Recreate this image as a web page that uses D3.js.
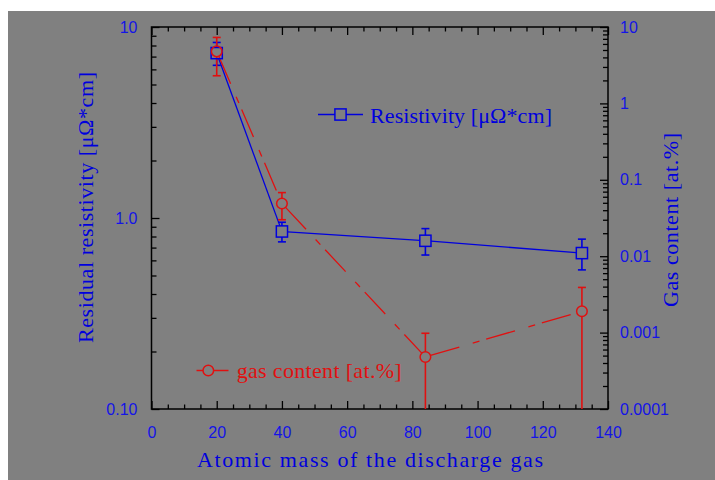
<!DOCTYPE html>
<html>
<head>
<meta charset="utf-8">
<script src="https://cdn.jsdelivr.net/npm/d3@7"></script>
<style>
  html, body { margin: 0; padding: 0; background: #ffffff; }
  svg { display: block; }
</style>
</head>
<body>
<svg id="chart" width="715" height="480"></svg>
<script>
// Ne, Ar, Kr, Xe
const atomicMass = [20, 40, 84, 132];
const resistivity = [7.3, 0.85, 0.76, 0.655];      // µΩ·cm
const resistivityErr = [1.0, 0.10, 0.12, 0.12];
const gasContent = [4.8, 0.049, 0.00048, 0.0019];   // at.%
const gasContentErr = [2.5, 0.019, 0.0005, 0.0020];

const xMajorTicks = [0, 20, 40, 60, 80, 100, 120, 140];
const leftTickValues = [0.1, 1, 10];
const leftTickLabels = ["0.10", "1.0", "10"];
const rightTickValues = [0.0001, 0.001, 0.01, 0.1, 1, 10];
const rightTickLabels = ["0.0001", "0.001", "0.01", "0.1", "1", "10"];

const BLUE = "#0000dd";
const BLUE_TEXT = "#1414e6";
const RED = "#e01010";
const BG = "#808080";

const svg = d3.select("#chart");
svg.append("rect").attr("x", 8).attr("y", 11).attr("width", 707).attr("height", 469).attr("fill", BG);

const plot = { left: 151.5, right: 608, top: 27, bottom: 409 };

const x = d3.scaleLinear().domain([0, 140]).range([plot.left, plot.right]);
const yL = d3.scaleLog().domain([0.1, 10]).range([plot.bottom, plot.top]);
const yR = d3.scaleLog().domain([0.0001, 10]).range([plot.bottom, plot.top]);

// minor ticks for log axes: 2..9 within every decade
function logMinor(scale) {
  const [lo, hi] = scale.domain();
  const out = [];
  for (let e = Math.round(Math.log10(lo)); e < Math.round(Math.log10(hi)); e++) {
    for (let k = 2; k <= 9; k++) out.push(k * Math.pow(10, e));
  }
  return out;
}
const xMinor = d3.range(0, 141, 5).filter(v => v % 20 !== 0);

function styleAxis(g) {
  g.select(".domain").remove();
  g.selectAll("line").attr("stroke", "#000").attr("stroke-width", 1.3);
  g.selectAll("text")
    .attr("fill", BLUE_TEXT)
    .style("font-family", "'Liberation Sans', Arial, sans-serif")
    .style("font-size", "16px");
}

// bottom axis
const gB = svg.append("g").attr("transform", `translate(0,${plot.bottom})`);
gB.call(d3.axisBottom(x).tickValues(xMajorTicks).tickSize(-8).tickPadding(18).tickFormat(d3.format("d")));
styleAxis(gB);
const gBm = svg.append("g").attr("transform", `translate(0,${plot.bottom})`);
gBm.call(d3.axisBottom(x).tickValues(xMinor).tickSize(-4.5).tickFormat(""));
styleAxis(gBm);

// top axis
const gT = svg.append("g").attr("transform", `translate(0,${plot.top})`);
gT.call(d3.axisTop(x).tickValues(xMajorTicks).tickSize(-8).tickFormat(""));
styleAxis(gT);
const gTm = svg.append("g").attr("transform", `translate(0,${plot.top})`);
gTm.call(d3.axisTop(x).tickValues(xMinor).tickSize(-4.5).tickFormat(""));
styleAxis(gTm);

// left axis
const gL = svg.append("g").attr("transform", `translate(${plot.left},0)`);
gL.call(d3.axisLeft(yL).tickValues(leftTickValues).tickSize(-8).tickPadding(14)
  .tickFormat((d, i) => leftTickLabels[i]));
styleAxis(gL);
const gLm = svg.append("g").attr("transform", `translate(${plot.left},0)`);
gLm.call(d3.axisLeft(yL).tickValues(logMinor(yL)).tickSize(-5).tickFormat(""));
styleAxis(gLm);

// right axis
const gR = svg.append("g").attr("transform", `translate(${plot.right},0)`);
gR.call(d3.axisRight(yR).tickValues(rightTickValues).tickSize(-8).tickPadding(12)
  .tickFormat((d, i) => rightTickLabels[i]));
styleAxis(gR);
const gRm = svg.append("g").attr("transform", `translate(${plot.right},0)`);
gRm.call(d3.axisRight(yR).tickValues(logMinor(yR)).tickSize(-5).tickFormat(""));
styleAxis(gRm);

// frame
svg.append("rect")
  .attr("x", plot.left).attr("y", plot.top)
  .attr("width", plot.right - plot.left).attr("height", plot.bottom - plot.top)
  .attr("fill", "none").attr("stroke", "#000").attr("stroke-width", 1.5);

// marker geometry: lines stop at the marker outline
const SQ = 5.6;   // half side of square
const CR = 5.3;   // circle radius
function trimFor(kind, ux, uy) {
  if (kind === "square") return SQ / Math.max(Math.abs(ux), Math.abs(uy));
  return CR;
}
function segments(pts, kind) {
  const segs = [];
  for (let i = 0; i < pts.length - 1; i++) {
    const [x0, y0] = pts[i], [x1, y1] = pts[i + 1];
    const len = Math.hypot(x1 - x0, y1 - y0);
    const ux = (x1 - x0) / len, uy = (y1 - y0) / len;
    const t = trimFor(kind, ux, uy);
    segs.push([[x0 + ux * t, y0 + uy * t], [x1 - ux * t, y1 - uy * t]]);
  }
  return segs;
}

const bluePts = atomicMass.map((m, i) => [x(m), yL(resistivity[i])]);
const redPts = atomicMass.map((m, i) => [x(m), yR(gasContent[i])]);

const line = d3.line();

// connecting lines
svg.append("g").selectAll("path").data(segments(bluePts, "square")).join("path")
  .attr("d", d => line(d)).attr("fill", "none").attr("stroke", BLUE).attr("stroke-width", 1.3);

svg.append("g").selectAll("path").data(segments(redPts, "circle")).join("path")
  .attr("d", d => line(d)).attr("fill", "none").attr("stroke", RED).attr("stroke-width", 1.3)
  .attr("stroke-dasharray", "30,14,7,7");

// error bars
function errorBars(vals, errs, scale, kind, color) {
  const g = svg.append("g").attr("stroke", color).attr("stroke-width", 1.6).attr("fill", "none");
  const half = kind === "square" ? SQ : CR;
  const cap = 4;
  const yMin = scale.domain()[0];
  vals.forEach((v, i) => {
    const cx = x(atomicMass[i]);
    const cy = scale(v);
    const hiY = scale(v + errs[i]);
    const lowInside = v - errs[i] > yMin;
    const loY = lowInside ? scale(v - errs[i]) : scale.range()[0];
    g.append("line").attr("x1", cx).attr("x2", cx).attr("y1", cy - half).attr("y2", hiY);
    g.append("line").attr("x1", cx - cap).attr("x2", cx + cap).attr("y1", hiY).attr("y2", hiY);
    g.append("line").attr("x1", cx).attr("x2", cx).attr("y1", cy + half).attr("y2", loY);
    if (lowInside) g.append("line").attr("x1", cx - cap).attr("x2", cx + cap).attr("y1", loY).attr("y2", loY);
  });
}
errorBars(resistivity, resistivityErr, yL, "square", BLUE);
errorBars(gasContent, gasContentErr, yR, "circle", RED);

// markers
svg.append("g").selectAll("rect").data(bluePts).join("rect")
  .attr("x", d => d[0] - SQ).attr("y", d => d[1] - SQ)
  .attr("width", 2 * SQ).attr("height", 2 * SQ)
  .attr("fill", "none").attr("stroke", BLUE).attr("stroke-width", 1.5);
svg.append("g").selectAll("circle").data(redPts).join("circle")
  .attr("cx", d => d[0]).attr("cy", d => d[1]).attr("r", CR)
  .attr("fill", "none").attr("stroke", RED).attr("stroke-width", 1.5);

// titles
const SERIF = "'Liberation Serif', 'Times New Roman', serif";
function title(txt, color, len) {
  return svg.append("text").text(txt)
    .attr("fill", color)
    .style("font-family", SERIF).style("font-size", "22px")
    .attr("textLength", len).attr("lengthAdjust", "spacing");
}
title("Atomic mass of the discharge gas", BLUE, 346)
  .attr("x", 197).attr("y", 467);
title("Residual resistivity [μΩ*cm]", BLUE, 271)
  .attr("transform", "translate(93,343) rotate(-90)");
title("Gas content [at.%]", BLUE, 174)
  .attr("transform", "translate(678,307) rotate(-90)");

// legend
const leg = svg.append("g");
leg.append("line").attr("x1", 318).attr("x2", 363).attr("y1", 114.5).attr("y2", 114.5)
  .attr("stroke", BLUE).attr("stroke-width", 1.3);
leg.append("rect").attr("x", 340.5 - SQ).attr("y", 114.5 - SQ).attr("width", 2 * SQ).attr("height", 2 * SQ)
  .attr("fill", BG).attr("stroke", BLUE).attr("stroke-width", 1.5);
title("Resistivity [μΩ*cm]", BLUE, 182).attr("x", 370).attr("y", 123);

leg.append("line").attr("x1", 196.5).attr("x2", 228.5).attr("y1", 370.5).attr("y2", 370.5)
  .attr("stroke", RED).attr("stroke-width", 1.3);
leg.append("circle").attr("cx", 208.3).attr("cy", 370.5).attr("r", CR)
  .attr("fill", BG).attr("stroke", RED).attr("stroke-width", 1.5);
title("gas content [at.%]", RED, 165).attr("x", 236.7).attr("y", 378.3);
</script>
</body>
</html>
